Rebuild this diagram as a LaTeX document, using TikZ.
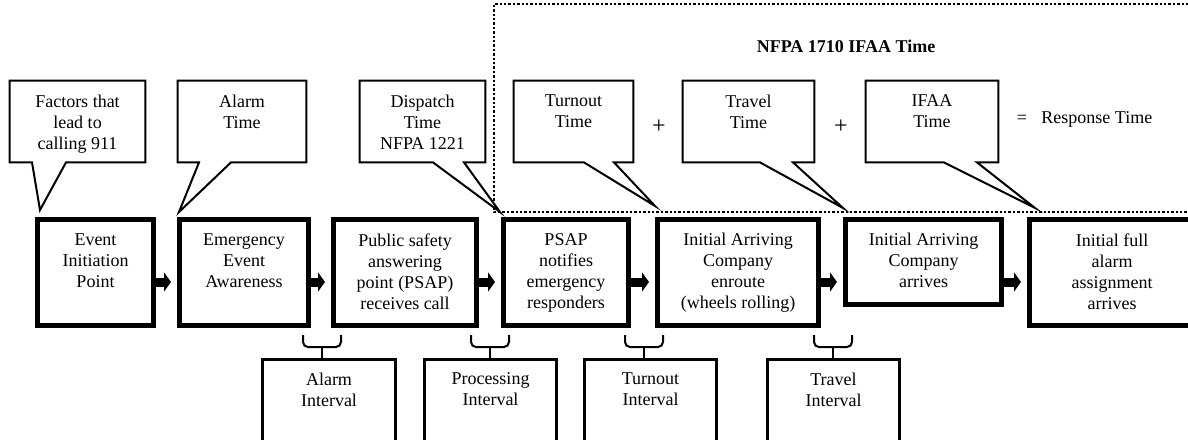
\documentclass[tikz,border=0pt]{standalone}
\usepackage{fontspec}
\setmainfont{Liberation Serif}
\usetikzlibrary{arrows.meta,positioning}
\begin{document}
\begin{tikzpicture}[x=0.5pt,y=-0.5pt,
    stage/.style={draw,line width=2.5pt,inner sep=0pt},
    interval/.style={draw,line width=1.5pt,inner sep=0pt},
    callbox/.style={inner sep=0pt},
    note/.style={line width=1pt,line join=miter},
    txt/.style={align=center,inner sep=0pt,font=\fontsize{9}{10.5}\selectfont},
    flow/.style={line width=4.5pt,-{Triangle[length=3.5pt,width=9.5pt]},shorten >=3pt},
    gap/.style={line width=1pt,rounded corners=2.5pt},
    frame/.style={line width=1.2pt,densely dotted}]
      \clip (0,0) rectangle (1188,439);%

      % dotted frame of the NFPA 1710 part
      \draw[frame] (1200,212) -- (494,212) -- (494,4) -- (1200,4);%
      \node[txt,font=\bfseries\fontsize{9}{10.5}\selectfont] (ttl) at (846,46) {NFPA 1710 IFAA Time};%

      % stages
      \node[stage,minimum width=58pt,minimum height=53pt] (ev) at (95.5,272.5) {};%
      \node[stage,minimum width=64.5pt,minimum height=53pt] (aw) at (244,272.5) {};%
      \node[stage,minimum width=71.5pt,minimum height=53pt] (psap) at (405,272.5) {};%
      \node[stage,minimum width=62.5pt,minimum height=53pt] (ntf) at (566,272.5) {};%
      \node[stage,minimum width=80.5pt,minimum height=53pt] (enr) at (738,272.5) {};%
      \node[stage,minimum width=78pt,minimum height=42.5pt] (arr) at (923.5,262) {};%
      \node[stage,minimum width=82.5pt,minimum height=53pt] (full) at (1112,272.5) {};%

      \node[txt,below=8pt of ev.north] {Event\\Initiation\\Point};%
      \node[txt,below=8pt of aw.north] {Emergency\\Event\\Awareness};%
      \node[txt,below=8pt of psap.north] {Public safety\\answering\\point (PSAP)\\receives call};%
      \node[txt,below=8pt of ntf.north] {PSAP\\notifies\\emergency\\responders};%
      \node[txt,below=8pt of enr.north] {Initial Arriving\\Company\\enroute\\(wheels rolling)};%
      \node[txt,below=8pt of arr.north] {Initial Arriving\\Company\\arrives};%
      \node[txt,below=8pt of full.north] {Initial full\\alarm\\assignment\\arrives};%

      \coordinate (row) at (0,282);%
      \draw[flow] (ev.east |- row) -- (aw.west |- row);%
      \draw[flow] (aw.east |- row) -- (psap.west |- row);%
      \draw[flow] (psap.east |- row) -- (ntf.west |- row);%
      \draw[flow] (ntf.east |- row) -- (enr.west |- row);%
      \draw[flow] (enr.east |- row) -- (arr.west |- row);%
      \draw[flow] (arr.east |- row) -- (full.west |- row);%

      % callouts
      \node[callbox,minimum width=67.5pt,minimum height=40.5pt] (fac) at (77.5,121.5) {};%
      \node[callbox,minimum width=64pt,minimum height=40.5pt] (alt) at (242,121.5) {};%
      \node[callbox,minimum width=62.5pt,minimum height=40.5pt] (dst) at (422.5,121.5) {};%
      \node[callbox,minimum width=59.5pt,minimum height=40.5pt] (tot) at (573.5,121.5) {};%
      \node[callbox,minimum width=65.5pt,minimum height=40.5pt] (trt) at (748.5,121.5) {};%
      \node[callbox,minimum width=66pt,minimum height=40.5pt] (ift) at (932,121.5) {};%

      \coordinate (tfac) at (40,210);%
      \coordinate (talt) at (179,212);%
      \coordinate (tdst) at (500,212);%
      \coordinate (ttot) at (655,206);%
      \coordinate (ttrt) at (843,208);%
      \coordinate (tift) at (1035,208);%

      \draw[note] (fac.north west) -- (fac.north east) -- (fac.south east) -- (66,0 |- fac.south) -- (tfac) -- (32,0 |- fac.south) -- (fac.south west) -- cycle;%
      \draw[note] (alt.north west) -- (alt.north east) -- (alt.south east) -- (231,0 |- alt.south) -- (talt) -- (199,0 |- alt.south) -- (alt.south west) -- cycle;%
      \draw[note] (dst.north west) -- (dst.north east) -- (dst.south east) -- (464,0 |- dst.south) -- (tdst) -- (433,0 |- dst.south) -- (dst.south west) -- cycle;%
      \draw[note] (tot.north west) -- (tot.north east) -- (tot.south east) -- (614,0 |- tot.south) -- (ttot) -- (584,0 |- tot.south) -- (tot.south west) -- cycle;%
      \draw[note] (trt.north west) -- (trt.north east) -- (trt.south east) -- (793,0 |- trt.south) -- (ttrt) -- (760,0 |- trt.south) -- (trt.south west) -- cycle;%
      \draw[note] (ift.north west) -- (ift.north east) -- (ift.south east) -- (977,0 |- ift.south) -- (tift) -- (944,0 |- ift.south) -- (ift.south west) -- cycle;%

      \node[txt,below=7pt of fac.north] {Factors that\\lead to\\calling 911};%
      \node[txt,below=7pt of alt.north] {Alarm\\Time};%
      \node[txt,below=7pt of dst.north] {Dispatch\\Time\\NFPA 1221};%
      \node[txt,below=7pt of tot.north] {Turnout\\Time};%
      \node[txt,below=7pt of trt.north] {Travel\\Time};%
      \node[txt,below=7pt of ift.north] {IFAA\\Time};%

      \node[txt,font=\fontsize{12}{14}\selectfont] (pl1) at (659,127) {+};%
      \node[txt,font=\fontsize{12}{14}\selectfont] (pl2) at (841,127) {+};%
      \node[txt] (eq) at (1022,119) {=};%
      \node[txt,anchor=west] (rsp) at (1041,119) {Response Time};%

      % intervals
      \node[interval,minimum width=66.5pt,minimum height=55.25pt] (ali) at (329,414.75) {};%
      \node[interval,minimum width=66pt,minimum height=55.25pt] (pri) at (490.5,414.75) {};%
      \node[interval,minimum width=66pt,minimum height=55.25pt] (toi) at (650.5,414.75) {};%
      \node[interval,minimum width=66pt,minimum height=55.25pt] (tri) at (833.5,414.75) {};%

      \node[txt,below=7.25pt of ali.north] {Alarm\\Interval};%
      \node[txt,below=7.25pt of pri.north] {Processing\\Interval};%
      \node[txt,below=7.25pt of toi.north] {Turnout\\Interval};%
      \node[txt,below=7.25pt of tri.north] {Travel\\Interval};%

      \coordinate (bA) at (322,347);%
      \coordinate (bB) at (490,347);%
      \coordinate (bC) at (644,347);%
      \coordinate (bD) at (833,347);%
      \draw[gap] ([shift={(-19,-12)}]bA) |- (bA) -| ([shift={(19,-12)}]bA);%
      \draw[gap] ([shift={(-19,-12)}]bB) |- (bB) -| ([shift={(19,-12)}]bB);%
      \draw[gap] ([shift={(-19,-12)}]bC) |- (bC) -| ([shift={(19,-12)}]bC);%
      \draw[gap] ([shift={(-19,-12)}]bD) |- (bD) -| ([shift={(19,-12)}]bD);%
      \draw[line width=1pt] (bA) -- (bA |- ali.north);%
      \draw[line width=1pt] (bB) -- (bB |- pri.north);%
      \draw[line width=1pt] (bC) -- (bC |- toi.north);%
      \draw[line width=1pt] (bD) -- (bD |- tri.north);%
    \end{tikzpicture}
\end{document}
